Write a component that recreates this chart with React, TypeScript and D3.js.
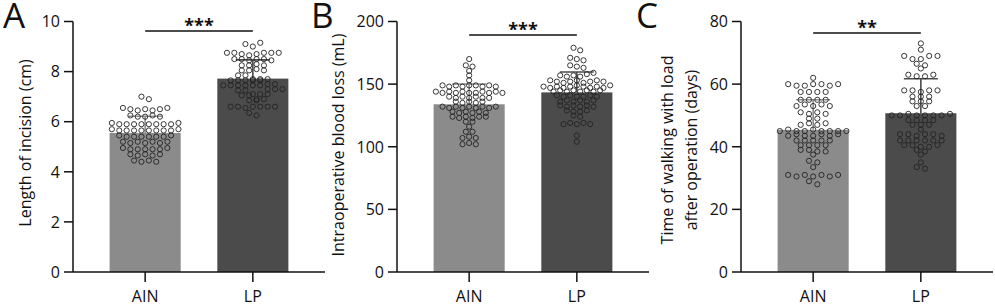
import React from "react";
import * as d3 from "d3";

const categories = ["AIN", "LP"];

const incisionAIN = [
  7.0, 6.9,
  6.55, 6.5, 6.45, 6.5, 6.45, 6.5, 6.55,
  6.25, 6.2, 6.2, 6.25, 6.2,
  5.95, 5.9, 5.9, 5.9, 5.9, 5.9, 5.9, 5.9, 5.9, 5.95,
  5.7, 5.65, 5.65, 5.65, 5.65, 5.65, 5.65, 5.65, 5.65, 5.7,
  5.45, 5.4, 5.4, 5.4, 5.4, 5.4, 5.4, 5.45,
  5.2, 5.15, 5.2, 5.15, 5.2, 5.15, 5.2,
  4.95, 4.9, 4.9, 4.9, 4.9, 4.9, 4.95,
  4.7, 4.65, 4.7, 4.65, 4.7,
  4.45, 4.4, 4.45, 4.4,
];
const incisionLP = [
  9.1, 9.0, 9.15,
  8.75, 8.75, 8.7, 8.65, 8.7, 8.75, 8.75, 8.75,
  8.5, 8.5, 8.45, 8.5, 8.5, 8.45,
  8.25, 8.25, 8.3, 8.25,
  8.05, 8.05, 8.1, 8.05,
  7.85, 7.85,
  7.65, 7.65, 7.7, 7.65, 7.7, 7.65, 7.7, 7.65,
  7.45, 7.45, 7.5, 7.45, 7.45, 7.5, 7.45, 7.45,
  7.3, 7.25, 7.3, 7.25, 7.3,
  7.1, 7.05, 7.1, 7.05, 7.1,
  6.9, 6.85, 6.9, 6.85,
  6.6, 6.6, 6.55, 6.6, 6.6, 6.6, 6.6,
  6.35, 6.25,
];
const bloodAIN = [
  170,
  165, 164,
  160.5,
  157,
  153,
  149, 148, 149, 148, 149, 149, 148, 149, 148,
  144, 143, 144, 143, 144, 143, 143, 144, 143, 144, 143,
  140, 139, 140, 139, 140, 139, 139,
  136, 135, 136, 135, 136,
  132, 131, 132, 131, 132, 131, 132, 131, 132,
  128, 127, 128, 127, 128, 127,
  124, 123, 124, 123, 124, 124,
  120, 120,
  116,
  112, 112,
  107, 108, 107,
  102, 103, 102,
];
const bloodLP = [
  179, 177,
  171, 170, 169,
  165, 164, 163,
  157, 156, 157, 156, 158, 159,
  153, 152, 151, 152, 153, 151, 152, 153, 152,
  148, 147, 148, 147, 148, 149, 148, 147, 148, 147, 149,
  144, 145, 144, 145, 144, 145, 144, 145,
  141, 140, 141, 140, 140, 141, 140,
  136, 137, 136, 137, 136, 137,
  133, 132, 133, 132, 133, 132,
  129, 128, 128, 129,
  125, 124,
  118, 119, 118, 119, 118,
  109,
  104,
];
const walkAIN = [
  62,
  60, 59.5, 59.5, 60, 60, 59.5, 60,
  57.5, 57.5, 57.5, 57.5,
  55, 55, 55, 55,
  53, 53.5, 53, 53.5, 53,
  51, 50.5, 51, 50.5,
  49, 49,
  47, 47.5, 47, 47.5,
  45, 45.5, 45, 45, 45.5, 45, 45, 45, 45,
  43.5, 44, 43.5, 43.5, 44, 43.5, 44,
  42, 42, 42, 42, 42,
  40.5, 40.5, 40.5, 40.5,
  39, 39, 38.5, 38.5,
  37.5,
  35.5, 35,
  33.5,
  31, 30.5, 31, 30.5, 31, 30.5, 31,
  29, 28,
];
const walkLP = [
  73,
  71,
  69, 68, 68, 69, 69,
  66.5, 66,
  65,
  63, 62.5, 62.5, 63,
  58, 58, 57.5, 58, 58,
  56, 56, 56,
  54.5, 54.5, 54.5,
  53, 53,
  50, 50, 50.5, 50, 50, 50, 50, 50.5,
  48.5, 48.5, 48.5, 48.5,
  47, 47, 47,
  45.5,
  44, 44, 43.5, 44, 44, 43.5,
  42, 42, 42, 42, 42, 42,
  40.5, 40.5, 40, 40, 40.5,
  39, 38.5,
  37.5,
  35,
  33.5, 33,
];

const incisionMean = [5.55, 7.72];
const incisionSD = [0.67, 0.75];
const bloodMean = [133.9, 143.4];
const bloodSD = [16.2, 16.3];
const walkMean = [45.4, 50.7];
const walkSD = [9.6, 11.0];

const incisionTicks = [0, 2, 4, 6, 8, 10];
const bloodTicks = [0, 50, 100, 150, 200];
const walkTicks = [0, 20, 40, 60, 80];

const panelLetters = ["A", "B", "C"];
const significance = ["***", "***", "**"];
const yTitles = [
  ["Length of incision (cm)"],
  ["Intraoperative blood loss (mL)"],
  ["Time of walking with load", "after operation (days)"],
];

const FONT = "'Open Sans', 'Noto Sans', sans-serif";
const barColors = ["#8b8b8b", "#4b4b4b"];

// Prism-like scatter layout: values within `thr` of a row's top value share a row,
// and each row is spread over evenly spaced columns around the group centre.
function rows(vals: number[], thr: number): number[][] {
  const idx = vals.map((_, i) => i).sort((a, b) => vals[b] - vals[a] || a - b);
  const out: number[][] = [];
  let start = Infinity;
  for (const i of idx) {
    if (out.length && start - vals[i] < thr) out[out.length - 1].push(i);
    else {
      out.push([i]);
      start = vals[i];
    }
  }
  return out.map((r) => r.sort((a, b) => a - b));
}

function offsets(vals: number[], thr: number, step: number): number[] {
  const xs = new Array(vals.length).fill(0);
  for (const r of rows(vals, thr)) {
    const n = r.length;
    r.forEach((i, k) => {
      xs[i] = (k - (n - 1) / 2) * step;
    });
  }
  return xs;
}

type PanelProps = {
  x0: number;
  letterX: number;
  titleX: number[];
  titleY: number;
  letter: string;
  titles: string[];
  groups: number[][];
  means: number[];
  sds: number[];
  ticks: number[];
  sig: string;
  sigY: number;
  thr: number;
};

function Panel(p: PanelProps) {
  const yTop = 21.5;
  const yBottom = 272;
  const width = 252;
  const y = d3.scaleLinear().domain([p.ticks[0], p.ticks[p.ticks.length - 1]]).range([yBottom, yTop]);
  const x = d3.scaleBand().domain(categories).range([p.x0, p.x0 + width]).paddingInner(0.34).paddingOuter(0.34);
  const bw = x.bandwidth();
  const maxN = d3.max(p.groups, (g) => d3.max(rows(g, p.thr), (r) => r.length)) || 2;
  const step = Math.min(8.6, 66.6 / Math.max(1, maxN - 1));
  return (
    <g>
      <text x={p.letterX} y={28} fontSize={35} fontFamily={FONT} fill="#111">
        {p.letter}
      </text>
      {p.titles.map((t, i) => (
        <text
          key={t}
          transform={`translate(${p.titleX[i]},${p.titleY}) rotate(-90)`}
          textAnchor="middle"
          fontSize={16}
          fontFamily={FONT}
          fill="#111"
        >
          {t}
        </text>
      ))}
      {categories.map((c, i) => (
        <rect key={c} x={x(c)!} y={y(p.means[i])} width={bw} height={yBottom - y(p.means[i])} fill={barColors[i]} />
      ))}
      {categories.map((c, i) => {
        const cx = x(c)! + bw / 2;
        const top = y(p.means[i] + p.sds[i]);
        return (
          <g key={c} stroke={barColors[i]} strokeWidth={1.6}>
            <line x1={cx} x2={cx} y1={y(p.means[i])} y2={top} />
            <line x1={cx - 17} x2={cx + 17} y1={top} y2={top} />
          </g>
        );
      })}
      {categories.map((c, i) => {
        const vals = p.groups[i];
        const xs = offsets(vals, p.thr, step);
        const cx = x(c)! + bw / 2;
        return (
          <g key={c}>
            {vals.map((v, j) => (
              <circle key={j} cx={cx + xs[j]} cy={y(v)} r={2.6} fill="none" stroke="#222" strokeWidth={0.9} />
            ))}
          </g>
        );
      })}
      <line x1={p.x0} x2={p.x0} y1={yTop} y2={yBottom} stroke="#111" strokeWidth={1.5} />
      <line x1={p.x0} x2={p.x0 + width} y1={yBottom} y2={yBottom} stroke="#111" strokeWidth={1.5} />
      {p.ticks.map((t) => (
        <g key={t}>
          <line x1={p.x0 - 9} x2={p.x0} y1={y(t)} y2={y(t)} stroke="#111" strokeWidth={1.5} />
          <text x={p.x0 - 13} y={y(t)} dy="0.36em" textAnchor="end" fontSize={16} fontFamily={FONT} fill="#111">
            {t}
          </text>
        </g>
      ))}
      {categories.map((c) => {
        const cx = x(c)! + bw / 2;
        return (
          <g key={c}>
            <line x1={cx} x2={cx} y1={yBottom} y2={yBottom + 10} stroke="#111" strokeWidth={1.5} />
            <text x={cx} y={302} textAnchor="middle" fontSize={16} fontFamily={FONT} fill="#111">
              {c}
            </text>
          </g>
        );
      })}
      <line
        x1={x(categories[0])! + bw / 2}
        x2={x(categories[1])! + bw / 2}
        y1={p.sigY}
        y2={p.sigY}
        stroke="#111"
        strokeWidth={1.5}
      />
      <text
        x={(x(categories[0])! + x(categories[1])! + bw) / 2}
        y={p.sigY + 1}
        textAnchor="middle"
        fontSize={18}
        fontWeight="bold"
        fontFamily={FONT}
        fill="#111"
      >
        {p.sig}
      </text>
    </g>
  );
}

export default function App() {
  return (
    <svg
      width={995}
      height={306}
      style={{ position: "absolute", left: 0, top: 0, background: "#fff" }}
      xmlns="http://www.w3.org/2000/svg"
    >
      <rect width={995} height={306} fill="#fff" />
      <Panel
        x0={73}
        letterX={3}
        titleX={[31]}
        titleY={143}
        letter={panelLetters[0]}
        titles={yTitles[0]}
        groups={[incisionAIN, incisionLP]}
        means={incisionMean}
        sds={incisionSD}
        ticks={incisionTicks}
        sig={significance[0]}
        sigY={31}
        thr={0.19}
      />
      <Panel
        x0={397}
        letterX={311}
        titleX={[344]}
        titleY={145}
        letter={panelLetters[1]}
        titles={yTitles[1]}
        groups={[bloodAIN, bloodLP]}
        means={bloodMean}
        sds={bloodSD}
        ticks={bloodTicks}
        sig={significance[1]}
        sigY={35}
        thr={3.5}
      />
      <Panel
        x0={741}
        letterX={636}
        titleX={[673, 697]}
        titleY={150}
        letter={panelLetters[2]}
        titles={yTitles[2]}
        groups={[walkAIN, walkLP]}
        means={walkMean}
        sds={walkSD}
        ticks={walkTicks}
        sig={significance[2]}
        sigY={33}
        thr={1.2}
      />
    </svg>
  );
}
